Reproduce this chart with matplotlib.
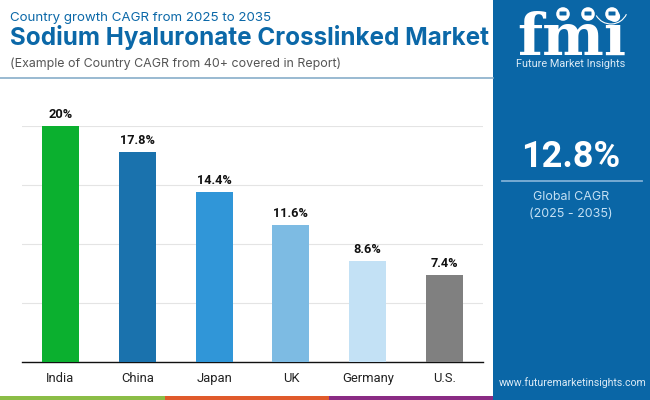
"""Country CAGR bars for the sodium hyaluronate crosslinked market, FMI card layout."""
import matplotlib
matplotlib.use("Agg")
import matplotlib.pyplot as plt
from matplotlib.patches import Arc, Circle, FancyBboxPatch, Rectangle

countries = ["India", "China", "Japan", "UK", "Germany", "U.S."]
cagr = [20, 17.8, 14.4, 11.6, 8.6, 7.4]
bar_labels = ["20%", "17.8%", "14.4%", "11.6%", "8.6%", "7.4%"]
bar_colors = ["#0bb02f", "#1a72ad", "#3096d8", "#7dbbe3", "#c3e1f5", "#808080"]
yticks = [0, 5, 10, 15, 20]

BLUE = "#0a66a6"
TITLE_BLUE = "#0b68a8"
W, H = 650, 400

fig = plt.figure(figsize=(6.5, 4), dpi=100, facecolor="white")

# page furniture, in pixel coordinates
bg = fig.add_axes([0, 0, 1, 1])
bg.set_xlim(0, W)
bg.set_ylim(H, 0)
bg.axis("off")
bg.add_patch(Rectangle((493, 0), 157, 400, color=BLUE, lw=0))
bg.add_patch(Rectangle((0, 396), 165, 4, color="#8bbd46", lw=0))
bg.add_patch(Rectangle((165, 396), 164, 4, color="#e05a2b", lw=0))
bg.add_patch(Rectangle((329, 396), 164, 4, color="#8a2b84", lw=0))
bg.plot([0, 493], [78, 78], color="#88aeca", lw=1.2)

bg.text(10.5, 17.5, "Country growth CAGR from 2025 to 2035", fontsize=9.6,
        family="Inter", color=TITLE_BLUE, va="center")
bg.text(10.5, 38, "Sodium Hyaluronate Crosslinked Market", fontsize=17.45,
        family="Inter", weight="bold", color=TITLE_BLUE, va="center")
bg.text(10.5, 64, "(Example of Country CAGR from 40+ covered in Report)", fontsize=8.95,
        family="Inter", color="#555555", va="center")

# logo
bg.text(572, 55, "fmi", fontsize=42, family="DejaVu Serif", weight="bold",
        color="white", ha="center", va="baseline")
for y in range(14, 58, 3):
    bg.plot([512, 632], [y + 0.5, y + 0.5], color=BLUE, lw=0.8, zorder=2.5)
for cx in (563, 588, 612):
    bg.add_patch(Circle((cx, 14), 6.8, color="white", lw=0, zorder=3))
    bg.add_patch(FancyBboxPatch((cx - 3, 12), 6, 3, boxstyle="round,pad=0.5",
                                color=BLUE, lw=0, zorder=4))
bg.add_patch(Arc((611, 7), 34, 34, theta1=25, theta2=150, color="white", lw=0.8, zorder=3))
bg.text(571, 64, "Future Market Insights", fontsize=7.8, family="Roboto",
        color="#dcebf6", ha="center", va="center", zorder=5)

# side panel
bg.text(571, 157, "12.8%", fontsize=26, family="Roboto", weight="bold",
        color="white", ha="center", va="center")
bg.plot([502, 642], [181, 181], color="#7fb0d6", lw=1.3)
bg.text(571, 197, "Global CAGR", fontsize=9, family="Inter", color="#c4e0f4",
        ha="center", va="center")
bg.text(571, 214, "(2025 - 2035)", fontsize=9, family="Inter", color="#c4e0f4",
        ha="center", va="center")
bg.text(572.5, 383, "www.futuremarketinsights.com", fontsize=7.6, family="Roboto",
        color="#dcebf6", ha="center", va="center")

# chart
ax = fig.add_axes([22 / W, 1 - 362 / H, 461 / W, 236 / H])
ax.patch.set_alpha(0)
x = range(len(countries))
ax.bar(x, cagr, width=0.48, color=bar_colors, zorder=3)
ax.set_xlim(-0.5, 5.5)
ax.set_ylim(0, 20)
ax.set_yticks(yticks)
ax.set_yticklabels([])
ax.set_xticks(list(x))
ax.set_xticklabels(countries, family="Roboto", fontsize=9.4, color="#222222", va="baseline")
ax.tick_params(axis="both", length=0)
ax.tick_params(axis="x", pad=14.5)
ax.grid(axis="y", color="#e4e4e4", lw=0.8, zorder=0)
for side in ("top", "right", "left"):
    ax.spines[side].set_visible(False)
ax.spines["bottom"].set_color("#111111")
ax.spines["bottom"].set_linewidth(1)
for i, (v, lab) in enumerate(zip(cagr, bar_labels)):
    ax.annotate(lab, (i, v), textcoords="offset points", xytext=(0, 3.5), ha="center",
                va="bottom", family="Roboto", weight="bold", fontsize=9.2, color="#111111",
                annotation_clip=False)

fig.savefig("out.png", dpi=100)
